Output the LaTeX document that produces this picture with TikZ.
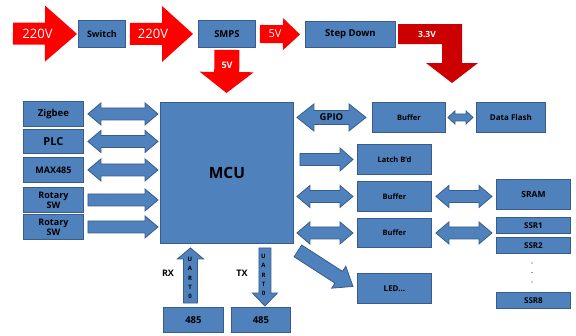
\documentclass[tikz,border=0pt]{standalone}
\usepackage{fontspec}
\setmainfont{Open Sans}
\usetikzlibrary{calc}

\definecolor{boxblue}{HTML}{4F81BD}
\definecolor{boxedge}{HTML}{385D8A}
\definecolor{pwrred}{HTML}{FF0000}
\definecolor{darkred}{RGB}{204,0,0}

\newcommand\fsz[1]{\bfseries\fontsize{#1}{#1}\selectfont}

\tikzset{
  box/.style={draw=boxedge, fill=boxblue, line width=0.9pt, inner sep=0pt,
    align=center, text=black, font=\fsz{8}},
  blockarrow/.style={draw=boxedge, fill=boxblue, line width=0.8pt, line join=miter},
  redarrow/.style={fill=pwrred, draw=none},
  redlabel/.style={text=white, inner sep=0pt},
  uartlabel/.style={text=black, inner sep=0pt, align=center,
    font=\bfseries\fontsize{6}{9.2}\selectfont},
  sidelabel/.style={text=black, inner sep=0pt, font=\fsz{9}},
}

% \bx[opts]{name}{x1}{y1}{x2}{y2}{text}: box spanning two corners
\newcommand\bx[7][]{%
  \node[box, anchor=north west, minimum width={(#5-#3)*1pt},
    minimum height={(#6-#4)*1pt}, #1] (#2) at (#3,#4) {#7};}

% \fatarrow[opts]{from}{to}{shaft half width}{head half width}{head length}
\newcommand\fatarrow[6][]{%
  \path ($(#3)!#6!(#2)$) coordinate (fa-h);
  \draw[#1] ($(#2)!#4!90:(#3)$) -- ($(fa-h)!#4!-90:(#2)$) -- ($(fa-h)!#5!-90:(#2)$)
    -- (#3) -- ($(fa-h)!#5!90:(#2)$) -- ($(fa-h)!#4!90:(#2)$)
    -- ($(#2)!#4!-90:(#3)$) -- cycle;}

% \dblarrow[opts]{from}{to}{shaft half width}{head half width}{head length}
\newcommand\dblarrow[6][]{%
  \path ($(#3)!#6!(#2)$) coordinate (fa-h) ($(#2)!#6!(#3)$) coordinate (fa-g);
  \draw[#1] (#2) -- ($(fa-g)!#5!90:(#3)$) -- ($(fa-g)!#4!90:(#3)$)
    -- ($(fa-h)!#4!-90:(#2)$) -- ($(fa-h)!#5!-90:(#2)$) -- (#3)
    -- ($(fa-h)!#5!90:(#2)$) -- ($(fa-h)!#4!90:(#2)$)
    -- ($(fa-g)!#4!-90:(#3)$) -- ($(fa-g)!#5!-90:(#3)$) -- cycle;}

\begin{document}
\begin{tikzpicture}[x=1pt, y=-1pt]
\useasboundingbox (0,0) rectangle (576,335);

% ---- power chain ----
\bx[font=\fsz{9}]{sw}{78}{20}{125}{47}{Switch}
\bx[font=\fsz{9.5}]{smps}{198}{20}{255}{47}{SMPS}
\bx[font=\fsz{9.5}]{sd}{305}{21}{395}{47}{Step Down}

\coordinate (pin) at (13,33.5);
\coordinate (pa1) at ($(sw.west)+(-1,0)$);
\fatarrow[redarrow]{pin}{pa1}{11pt}{28pt}{32pt}
\node[redlabel, font=\fontsize{13}{14}\selectfont] at (37.5,33.5) {220V};

\coordinate (pb0) at ($(sw.east)+(4,0)$);
\coordinate (pb1) at ($(smps.west)+(-5,0)$);
\fatarrow[redarrow]{pb0}{pb1}{11pt}{28pt}{31pt}
\node[redlabel, font=\fontsize{13}{14}\selectfont] at (153,33.5) {220V};

\coordinate (pc0) at ($(smps.east)+(4,0)$);
\coordinate (pc1) at ($(sd.west)+(-5,0)$);
\fatarrow[redarrow]{pc0}{pc1}{9pt}{16pt}{17pt}
\node[redlabel, font=\fontsize{11}{12}\selectfont] at (275,33.5) {5V};

\coordinate (pd0) at ($(smps.south)+(0,2)$);
\coordinate (pd1) at (226.5,93);
\fatarrow[redarrow]{pd0}{pd1}{12.5pt}{27pt}{21pt}
\node[redlabel, font=\fsz{9}] at (227,65) {5V};

% 3.3V supply bending down
\coordinate (v33) at (452,83);
\fill[darkred] (398,24) -- (462,24) -- (462,63) -- (478,63) -- (v33)
  -- (426,63) -- (442,63) -- (442,44) -- (398,44) -- cycle;
\node[redlabel, font=\fsz{8.5}] at (427,34) {3.3V};

% ---- MCU and peripherals ----
\bx[font=\fsz{15.5}]{mcu}{160}{102}{293}{243}{MCU}

\bx[font=\fsz{9.5}]{zig}{23}{101}{83}{126}{Zigbee}
\bx[font=\fsz{11}]{plc}{23}{129}{83}{153}{PLC}
\bx[font=\fsz{9}]{max}{23}{157}{83}{182}{MAX485}
\bx[font=\bfseries\fontsize{9}{10}\selectfont]{rot1}{23}{187}{83}{212}{Rotary\\SW}
\bx[font=\bfseries\fontsize{9}{10}\selectfont]{rot2}{23}{214}{83}{239}{Rotary\\SW}

\foreach \n in {zig,plc,max} {
  \coordinate (\n-a) at ($(\n.east)+(4,0)$);
  \coordinate (\n-b) at ($(\n.east -| mcu.west)+(-2,0)$);
  \dblarrow[blockarrow]{\n-a}{\n-b}{6pt}{11pt}{13pt}
}
\foreach \n in {rot1,rot2} {
  \coordinate (\n-a) at ($(\n.east)+(4,0)$);
  \coordinate (\n-b) at ($(\n.east -| mcu.west)+(-2,0)$);
  \fatarrow[blockarrow]{\n-a}{\n-b}{6pt}{11pt}{13pt}
}

\bx[font=\fsz{7.5}]{buf1}{372}{102}{445}{132}{Buffer}
\bx{flash}{476}{102}{545}{132}{Data Flash}
\bx[font=\fsz{7.5}]{latch}{357}{144}{431}{174}{Latch B'd}
\bx[font=\fsz{7.5}]{buf2}{357}{181}{431}{211}{Buffer}
\bx[font=\fsz{8.5}]{sram}{496}{179}{570}{209}{SRAM}
\bx[font=\fsz{7.5}]{buf3}{357}{218}{431}{247}{Buffer}
\bx{ssr1}{496}{217}{570}{233}{SSR1}
\bx{ssr2}{496}{237}{570}{253}{SSR2}
\bx{ssr8}{496}{292}{570}{308}{SSR8}
\bx{led}{357}{273}{431}{303}{LED...}

% GPIO bus
\coordinate (g-a) at ($(buf1.west -| mcu.east)+(3,0)$);
\coordinate (g-b) at ($(buf1.west)+(-6,0)$);
\dblarrow[blockarrow]{g-a}{g-b}{7pt}{13.5pt}{17pt}
\node[text=black, inner sep=0pt, font=\fsz{9.5}] at ($(g-a)!0.5!(g-b)$) {GPIO};

\coordinate (f-a) at ($(buf1.east)+(2,0)$);
\coordinate (f-b) at ($(flash.west)+(-3,0)$);
\dblarrow[blockarrow]{f-a}{f-b}{3.5pt}{6.5pt}{7pt}

\coordinate (l-a) at ($(latch.west -| mcu.east)+(6,0)$);
\coordinate (l-b) at ($(latch.west)+(-4,0)$);
\fatarrow[blockarrow]{l-a}{l-b}{6pt}{11.5pt}{13pt}

\foreach \n/\m in {buf2/sram,buf3/ssr1} {
  \coordinate (\n-a) at ($(\n.west -| mcu.east)+(3,0)$);
  \coordinate (\n-b) at ($(\n.west)+(-4,0)$);
  \dblarrow[blockarrow]{\n-a}{\n-b}{6pt}{11pt}{13pt}
  \coordinate (\n-c) at ($(\n.east)+(4,0)$);
  \coordinate (\n-d) at ($(\n.east -| \m.west)+(-4,0)$);
  \dblarrow[blockarrow]{\n-c}{\n-d}{6pt}{11pt}{13pt}
}

\coordinate (led-a) at ($(mcu.south east)+(4,7)$);
\coordinate (led-b) at ($(led.west)+(-4,-2)$);
\fatarrow[blockarrow]{led-a}{led-b}{7pt}{13pt}{17pt}

% SSR ellipsis
\foreach \yy in {263,272.5,282} \fill[black!80] (532,\yy) circle (0.7);

% ---- UART0 to the 485 drivers ----
\bx[font=\fsz{9.5}]{u1}{163}{307}{223}{332}{485}
\bx[font=\fsz{9.5}]{u2}{231}{307}{290}{332}{485}

\coordinate (rx-a) at ($(u1.north)+(-3,-4)$);
\coordinate (rx-b) at ($(rx-a |- mcu.south)+(0,4)$);
\fatarrow[blockarrow]{rx-a}{rx-b}{7pt}{13pt}{11pt}
\node[uartlabel] at (190,278) {U\\A\\R\\T\\0};
\node[sidelabel] at (168,273) {RX};

\coordinate (tx-a) at ($(mcu.south east)+(-29,4)$);
\coordinate (tx-b) at ($(tx-a |- u2.north)+(0,-1)$);
\fatarrow[blockarrow]{tx-a}{tx-b}{6pt}{12.5pt}{13pt}
\node[uartlabel] at (263.5,275) {U\\A\\R\\T\\0};
\node[sidelabel] at (242,273) {TX};
\end{tikzpicture}
\end{document}
